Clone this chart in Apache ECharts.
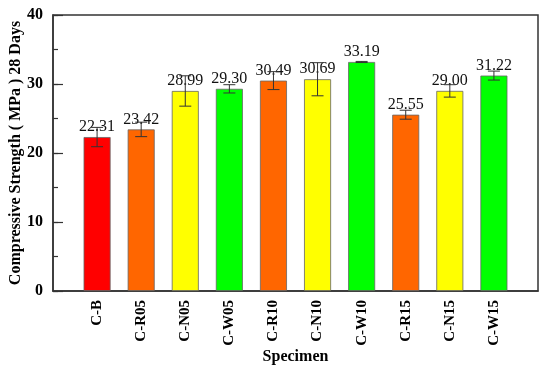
<!DOCTYPE html>
<html>
<head>
<meta charset="utf-8">
<script src="https://cdn.jsdelivr.net/npm/echarts@6/dist/echarts.min.js"></script>
<style>html,body{margin:0;padding:0;background:#fff}#c{width:550px;height:368px}</style>
</head>
<body>
<div id="c"></div>
<script>
const categories = ['C-B','C-R05','C-N05','C-W05','C-R10','C-N10','C-W10','C-R15','C-N15','C-W15'];
const strength = [22.31,23.42,28.99,29.30,30.49,30.69,33.19,25.55,29.00,31.22];
const errors = [1.4,1.05,2.2,0.6,1.3,2.4,0.08,0.65,0.9,0.65];
const barColors = ['#ff0000','#ff6600','#ffff00','#00ff00','#ff6600','#ffff00','#00ff00','#ff6600','#ffff00','#00ff00'];
const yTicks = [0,10,20,30,40];

const chart = echarts.init(document.getElementById('c'));
const serif = 'Liberation Serif, Times New Roman, serif';
const barData = categories.map((c,i)=>({value:[i+1, strength[i]], itemStyle:{color:barColors[i]}}));
const errData = categories.map((c,i)=>[i+1, strength[i]-errors[i], strength[i]+errors[i]]);
const yMin = yTicks[0], yMax = yTicks[yTicks.length-1];

chart.setOption({
  animation:false,
  grid:{left:53,right:12,top:15,bottom:77,show:true,borderColor:'#333',borderWidth:1.5,backgroundColor:'transparent',outerBoundsMode:'none',containLabel:false},
  xAxis:{
    type:'value',min:0,max:categories.length+1,interval:1,
    axisLine:{show:true,lineStyle:{color:'#333',width:1.5}},
    axisTick:{show:false},splitLine:{show:false},
    axisLabel:{rotate:90,margin:9,fontFamily:serif,fontWeight:'bold',fontSize:15,color:'#000',
      formatter:v=>(v>=1&&v<=categories.length)?categories[v-1]:''},
    name:'Specimen',nameLocation:'middle',nameGap:58,nameMoveOverlap:false,
    nameTextStyle:{fontFamily:serif,fontWeight:'bold',fontSize:16,color:'#000'}
  },
  yAxis:[{
    type:'value',min:yMin,max:yMax,interval:10,
    axisLine:{show:true,lineStyle:{color:'#333',width:1.5}},
    axisTick:{show:true,inside:true,length:10,lineStyle:{color:'#333',width:1.2}},
    splitLine:{show:false},
    axisLabel:{margin:10,fontFamily:serif,fontWeight:'bold',fontSize:16,color:'#000'},
    name:'Compressive Strength ( MPa ) 28 Days',nameLocation:'middle',nameGap:29,nameMoveOverlap:false,
    nameTextStyle:{fontFamily:serif,fontWeight:'bold',fontSize:16,color:'#000'}
  },{
    type:'value',min:yMin,max:yMax,interval:5,position:'left',offset:0,
    axisLine:{show:false},axisLabel:{show:false},splitLine:{show:false},
    axisTick:{show:true,inside:true,length:5,lineStyle:{color:'#333',width:1.2}}
  }],
  series:[
    {type:'bar',data:barData,barWidth:27,
      itemStyle:{borderColor:'#666',borderWidth:0.8},
      label:{show:true,position:'top',distance:2,fontFamily:serif,fontSize:16,color:'#111',
        formatter:p=>p.value[1].toFixed(2)}},
    {type:'custom',data:errData,z:5,
      renderItem:function(params,api){
        const x=api.value(0);
        const lo=api.coord([x,api.value(1)]);
        const hi=api.coord([x,api.value(2)]);
        const hw=6;
        const st={stroke:'#333',lineWidth:1};
        return {type:'group',children:[
          {type:'line',shape:{x1:lo[0],y1:lo[1],x2:hi[0],y2:hi[1]},style:st},
          {type:'line',shape:{x1:lo[0]-hw,y1:lo[1],x2:lo[0]+hw,y2:lo[1]},style:st},
          {type:'line',shape:{x1:hi[0]-hw,y1:hi[1],x2:hi[0]+hw,y2:hi[1]},style:st}
        ]};
      }}
  ]
});
</script>
</body>
</html>
